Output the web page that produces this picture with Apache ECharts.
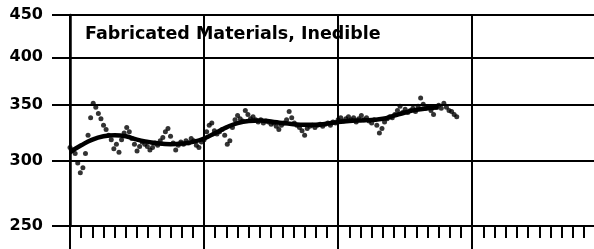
<!DOCTYPE html>
<html>
<head>
<meta charset="utf-8">
<script src="https://cdn.jsdelivr.net/npm/echarts@6/dist/echarts.min.js"></script>
<style>
  html, body { margin: 0; padding: 0; background: #fff; }
  #chart { width: 594px; height: 249px; }
</style>
</head>
<body>
<div id="chart"></div>
<script>
var chartTitle = 'Fabricated Materials, Inedible';
var yTicks = [250, 300, 350, 400, 450];
var yearTicks = [0, 12, 24, 36];
var monthTicks = [];
for (var m = 1; m <= 46; m++) {
  if (m % 12 !== 0) monthTicks.push(m);
}

// weekly index readings, week 0 = first year line
var weekly = [
  311, 309, 306, 298, 290, 294, 306, 322, 338, 352,
  348, 342, 337, 331, 327, 322, 318, 310, 314, 307,
  318, 324, 329, 325, 319, 314, 308, 312, 316, 314,
  312, 309, 311, 315, 313, 317, 320, 325, 328, 321,
  315, 309, 313, 316, 314, 317, 315, 319, 317, 313,
  311, 316, 318, 325, 331, 333, 326, 323, 325, 327,
  322, 314, 317, 329, 336, 340, 337, 335, 345, 341,
  337, 339, 336, 334, 336, 333, 335, 334, 332, 333,
  330, 327, 331, 333, 336, 344, 338, 333, 331, 329,
  326, 322, 328, 330, 331, 329, 331, 332, 330, 332,
  333, 331, 334, 333, 336, 338, 335, 337, 339, 336,
  338, 334, 337, 340, 336, 338, 335, 333, 336, 331,
  324, 328, 334, 337, 339, 338, 341, 345, 349, 343,
  346, 343, 345, 347, 344, 349, 357, 351, 347, 348,
  345, 341, 348, 350, 347, 352, 348, 345, 344, 341,
  339
];

// smoothed trend, one value per month
var trend = [
  307, 313, 318, 321, 322, 321, 318, 316, 314.5, 314,
  314.5, 316, 319, 324, 329, 333, 335, 335.5, 334.5, 333,
  332, 331.5, 331.5, 332.5, 334, 335, 335.5, 336, 337, 340,
  343, 345.5, 347, 348
];

var chart = echarts.init(document.getElementById('chart'));

var dotData = weekly.map(function (v, i) { return [i * 12 / 52, v]; });
var trendData = trend.map(function (v, i) { return [i, v]; });

var black = '#000';

chart.setOption({
  animation: false,
  backgroundColor: '#fff',
  title: {
    text: chartTitle,
    left: 85,
    top: 25,
    padding: 0,
    textStyle: {
      fontFamily: 'DejaVu Sans',
      fontWeight: 'bold',
      fontSize: 17.5,
      color: black
    }
  },
  grid: { left: 70, top: 15, bottom: 23, right: 0 },
  xAxis: [
    {
      type: 'value',
      min: 0,
      max: 46.9,
      axisLine: { show: true, lineStyle: { color: black, width: 2 } },
      axisTick: { show: true, customValues: yearTicks, length: 23, lineStyle: { color: black, width: 2 } },
      axisLabel: { show: false },
      splitLine: { show: true, lineStyle: { color: black, width: 2 } }
    },
    {
      type: 'value',
      position: 'bottom',
      min: 0,
      max: 46.9,
      axisLine: { show: false },
      axisTick: { show: true, customValues: monthTicks, length: 12, lineStyle: { color: black, width: 2 } },
      axisLabel: { show: false },
      splitLine: { show: false }
    }
  ],
  yAxis: {
    type: 'log',
    logBase: 10,
    min: 250,
    max: 450,
    axisLine: { show: true, lineStyle: { color: black, width: 2.5 } },
    axisTick: { show: true, customValues: yTicks, length: 18, lineStyle: { color: black, width: 2 } },
    axisLabel: {
      customValues: yTicks,
      margin: 27,
      fontFamily: 'DejaVu Sans',
      fontWeight: 'bold',
      fontSize: 16,
      color: black
    },
    splitLine: { show: true, lineStyle: { color: black, width: 2 } }
  },
  series: [
    {
      type: 'scatter',
      xAxisIndex: 0,
      data: dotData,
      symbol: 'circle',
      symbolSize: 5,
      itemStyle: { color: black }
    },
    {
      type: 'line',
      xAxisIndex: 0,
      data: trendData,
      smooth: true,
      showSymbol: false,
      lineStyle: { color: black, width: 4.5 }
    }
  ]
});
</script>
</body>
</html>
